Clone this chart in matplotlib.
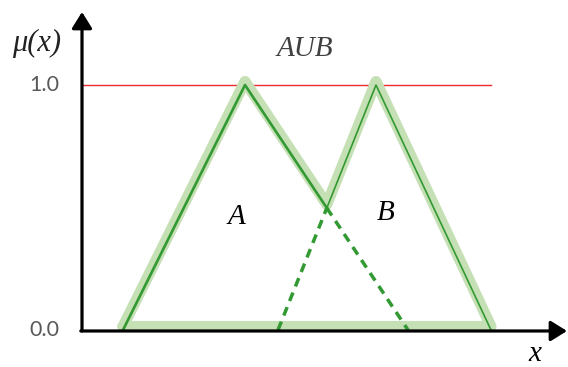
import numpy as np
import matplotlib.pyplot as plt
from matplotlib.transforms import offset_copy

# 三角隶属函数 (左脚, 顶点, 右脚)
A_pts = [1.025, 4.075, 8.15]
B_pts = [4.9, 7.35, 10.225]
peak = 1.0
tick_vals = [0.0, 1.0]
tick_labels = ['0.0', '1.0']
x_end = 12.125   # x 轴箭头
y_end = 1.298    # y 轴箭头

light_green = '#c5e0b4'
green = '#339933'
red = '#ee2a2a'

# A 右边与 B 左边的交点
a0, a1, a2 = A_pts
b0, b1, b2 = B_pts
sA = -peak / (a2 - a1)
sB = peak / (b1 - b0)
ix = (sA * a2 - sB * b0) / (sA - sB)
iy = sB * (ix - b0)

fig = plt.figure(figsize=(5.68, 3.67), dpi=100)
ax = fig.add_axes([0, 0, 1, 1])
ax.set_xlim(-82 / 40, 486 / 40)
ax.set_ylim(-37 / 245, 330 / 245)
ax.axis('off')

# 1.0 参考线
ax.plot([0, b2], [peak, peak], color=red, lw=1.0, zorder=1)

# 并集外轮廓 (稍微上移)
tr_up = offset_copy(ax.transData, fig=fig, x=0, y=3.5, units='dots')
ux = [a0, a1, ix, b1, b2, a0]
uy = [0, peak, iy, peak, 0, 0]
ax.plot(ux, uy, color=light_green, lw=8.0, solid_joinstyle='round',
        solid_capstyle='round', transform=tr_up, zorder=2)

# A
ax.plot([a0, a1, ix], [0, peak, iy], color=green, lw=1.9, zorder=3)
ax.plot([ix, a2], [iy, 0], color=green, lw=2.5, ls=(0, (2.6, 1.9)), zorder=3)
# B
ax.plot([b0, ix], [0, iy], color=green, lw=2.5, ls=(0, (2.6, 1.9)), zorder=3)
ax.plot([ix, b1, b2], [iy, peak, 0], color=green, lw=1.2, zorder=3)

# 坐标轴
arrow = dict(arrowstyle='-|>,head_length=0.45,head_width=0.28', lw=2.3,
             color='black', mutation_scale=22, shrinkA=0, shrinkB=0)
ax.annotate('', xy=(0, y_end), xytext=(0, -0.004), arrowprops=arrow, zorder=4)
ax.annotate('', xy=(x_end, -0.004), xytext=(-0.03, -0.004), arrowprops=arrow, zorder=4)

for v, lab in zip(tick_vals, tick_labels):
    ax.text(-0.95, v, lab, ha='center', va='center', fontsize=15.5,
            color='#595959', family=['Lato', 'DejaVu Sans'])

serif = ['Liberation Serif', 'DejaVu Serif']
ax.text(-1.125, 1.171, 'μ(x)', ha='center', va='center', fontsize=22,
        style='italic', color='#222222', family=serif)
ax.text(5.575, 1.147, 'AUB', ha='center', va='center', fontsize=21,
        style='italic', color='#404040', family=serif)
ax.text(3.85, 0.461, 'A', ha='center', va='center', fontsize=21,
        style='italic', color='black', family=serif)
ax.text(7.6, 0.478, 'B', ha='center', va='center', fontsize=21,
        style='italic', color='black', family=serif)
ax.text(11.325, -0.098, 'x', ha='center', va='center', fontsize=21,
        style='italic', color='black', family=serif)

fig.savefig('out.png', dpi=100)
